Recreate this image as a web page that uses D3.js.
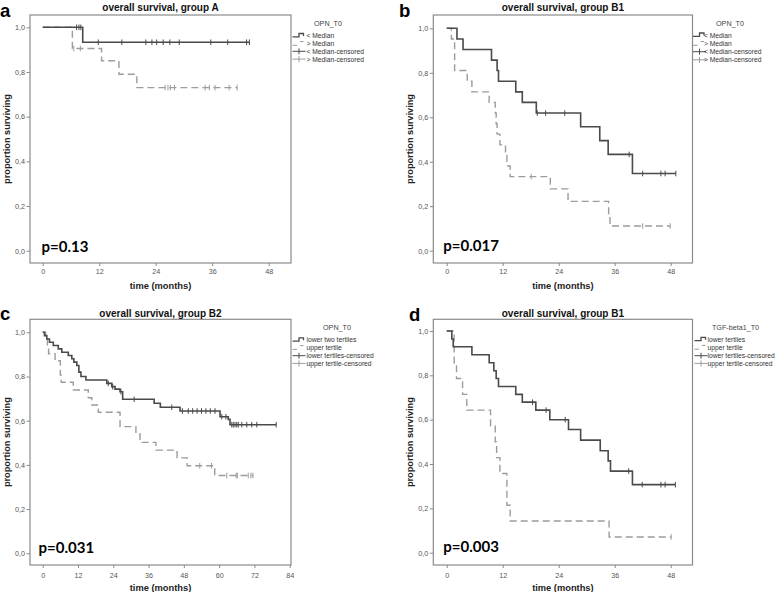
<!DOCTYPE html>
<html><head><meta charset="utf-8">
<script src="https://cdn.jsdelivr.net/npm/d3@7"></script>
<style>
body{margin:0;background:#fff;}
svg{display:block;}
</style></head><body>
<svg id="chart" width="779" height="592"></svg>
<script>
// ---------- data ----------
const yTicks = [0, 0.2, 0.4, 0.6, 0.8, 1.0];
const xTicks48 = [0, 12, 24, 36, 48];
const xTicks84 = [0, 12, 24, 36, 48, 60, 72, 84];

const legendOPNmedian = ["< Median", "> Median", "< Median-censored", "> Median-censored"];
const legendOPNtertile = ["lower two tertiles", "upper tertile", "lower tertiles-censored", "upper tertile-censored"];
const legendTGF = ["lower tertiles", "upper tertile", "lower tertiles-censored", "upper tertile-censored"];

// panel a: group A, OPN_T0
const aLowT = [8.5];
const aLowS = [0.933];
const aLowC = [7.2, 7.7, 8.1, 11.8, 16.8, 21.9, 23.2, 24.2, 25.6, 27.0, 29.0, 35.7, 39.3, 43.3, 43.9];
const aHighT = [6.3, 12.5, 16.2, 20.0];
const aHighS = [0.905, 0.850, 0.790, 0.730];
const aHighC = [6.6, 8.0, 26.0, 26.6, 27.1, 28.0, 34.5, 35.4, 36.6, 39.6, 41.3];

// panel b: group B1, OPN_T0
const bLowT = [2.2, 3.5, 9.6, 10.8, 11.1, 14.8, 16.2, 19.2, 28.7, 32.8, 34.6, 39.8];
const bLowS = [0.952, 0.905, 0.857, 0.810, 0.762, 0.714, 0.667, 0.619, 0.557, 0.495, 0.433, 0.347];
const bLowC = [19.4, 21.2, 25.3, 39.1, 42.0, 45.9, 46.8, 49.1];
const bHighT = [1.0, 1.7, 4.4, 5.4, 9.1, 10.4, 10.6, 10.8, 11.4, 12.6, 12.9, 13.6, 22.2, 26.0, 34.7, 35.0];
const bHighS = [0.952, 0.810, 0.762, 0.714, 0.667, 0.619, 0.571, 0.524, 0.476, 0.429, 0.381, 0.333, 0.278, 0.222, 0.167, 0.111];
const bHighC = [18.1, 42.0, 47.9];

// panel c: group B2, OPN_T0 tertiles
const cLowT = [0.6, 1.4, 2.3, 3.6, 5.3, 6.5, 8.7, 9.9, 10.6, 11.6, 12.3, 13.0, 14.7, 21.8, 23.5, 24.6, 26.3, 27.2, 37.9, 40.0, 46.7, 60.3, 63.1, 63.7];
const cLowS = [0.985, 0.970, 0.955, 0.940, 0.925, 0.910, 0.895, 0.880, 0.865, 0.850, 0.820, 0.800, 0.784, 0.769, 0.754, 0.743, 0.731, 0.697, 0.679, 0.661, 0.644, 0.618, 0.606, 0.582];
const cLowC = [22.3, 23.8, 26.6, 31.1, 43.9, 47.5, 49.5, 51.0, 52.5, 54.0, 55.5, 57.0, 58.6, 60.9, 62.3, 64.3, 64.8, 65.4, 66.0, 66.5, 67.7, 69.4, 71.1, 72.8, 79.4];
const cHighT = [1.0, 1.6, 2.0, 4.2, 6.0, 6.3, 10.4, 15.5, 16.7, 18.9, 26.3, 31.7, 33.1, 38.5, 45.7, 49.1, 58.5];
const cHighS = [0.968, 0.935, 0.903, 0.871, 0.806, 0.774, 0.739, 0.704, 0.671, 0.638, 0.573, 0.540, 0.502, 0.467, 0.432, 0.396, 0.352];
const cHighC = [53.4, 57.4, 62.6, 65.8, 66.2, 69.9, 70.8, 71.5];

// panel d: group B1, TGF-beta1_T0
const dLowT = [1.1, 1.4, 5.4, 9.1, 10.1, 10.6, 11.1, 14.8, 16.2, 19.1, 22.1, 26.1, 28.7, 32.9, 34.6, 35.1, 39.8];
const dLowS = [0.964, 0.929, 0.893, 0.857, 0.821, 0.786, 0.750, 0.714, 0.679, 0.643, 0.600, 0.556, 0.508, 0.460, 0.414, 0.368, 0.307];
const dLowC = [18.4, 21.3, 25.4, 39.0, 41.9, 45.9, 46.8, 49.0];
const dHighT = [1.6, 2.1, 3.4, 4.3, 9.4, 10.4, 10.7, 11.4, 12.9, 13.6, 34.8];
const dHighS = [0.857, 0.786, 0.714, 0.643, 0.571, 0.500, 0.429, 0.357, 0.214, 0.143, 0.071];
const dHighC = [48.1];

// ---------- layout ----------
const panels = [
  { letter: "a", lx: 0, ly: 17.3, title: "overall survival, group A", frame: [30, 15, 291, 263],
    xTicks: xTicks48, xr: [42.7, 268.7], yr: [250.7, 27.3], pval: "p=0.13", px: 41.5, py: 252,
    legTitle: "OPN_T0", legLabels: legendOPNmedian, symX: 292.5, textX: 306.5, legTitleX: 328, legTitleY: 25.5, legRows: [35.7, 43.5, 51.3, 59.1],
    ylabX: 7, xlabY: 289, tickLabY: 273.5,
    low: [aLowT, aLowS, aLowC], high: [aHighT, aHighS, aHighC] },
  { letter: "b", lx: 399, ly: 17.3, title: "overall survival, group B1", frame: [433.3, 15, 692.5, 263],
    xTicks: xTicks48, xr: [446.7, 670.7], yr: [250.7, 28.3], pval: "p=0.017", px: 443.3, py: 250.5,
    legTitle: "OPN_T0", legLabels: legendOPNmedian, symX: 693, textX: 704, legTitleX: 730, legTitleY: 25.5, legRows: [35.2, 43.5, 51.7, 59.8],
    ylabX: 410, xlabY: 289, tickLabY: 273.5,
    low: [bLowT, bLowS, bLowC], high: [bHighT, bHighS, bHighC] },
  { letter: "c", lx: 0, ly: 320, title: "overall survival, group B2", frame: [30, 319.3, 291, 565],
    xTicks: xTicks84, xr: [42.7, 289.7], yr: [553.3, 332.3], pval: "p=0.031", px: 38.5, py: 552.5,
    legTitle: "OPN_T0", legLabels: legendOPNtertile, symX: 292.5, textX: 306.5, legTitleX: 337, legTitleY: 329.5, legRows: [340, 347.6, 355.7, 363.4],
    ylabX: 7, xlabY: 590.5, tickLabY: 577.5,
    low: [cLowT, cLowS, cLowC], high: [cHighT, cHighS, cHighC] },
  { letter: "d", lx: 409, ly: 321, title: "overall survival, group B1", frame: [433.3, 319.3, 692.5, 565],
    xTicks: xTicks48, xr: [446.7, 670.7], yr: [552.7, 331.0], pval: "p=0.003", px: 443.3, py: 551.5,
    legTitle: "TGF-beta1_T0", legLabels: legendTGF, symX: 694.5, textX: 707.5, legTitleX: 735.5, legTitleY: 329.5, legRows: [339.5, 347.4, 355.7, 363.4],
    ylabX: 410, xlabY: 590.5, tickLabY: 577.5,
    low: [dLowT, dLowS, dLowC], high: [dHighT, dHighS, dHighC] }
];

const darkC = "#4a4a4a";
const lightC = "#9c9c9c";
const frameC = "#8a8a8a";
const sans = "'Liberation Sans', Arial, sans-serif";

const svg = d3.select("#chart");

function survAt(T, S, t) {
  let s = 1;
  for (let i = 0; i < T.length; i++) if (T[i] <= t) s = S[i];
  return s;
}

panels.forEach(p => {
  const g = svg.append("g");
  const [fx0, fy0, fx1, fy1] = p.frame;
  const xMax = p.xTicks[p.xTicks.length - 1];
  const x = d3.scaleLinear().domain([0, xMax]).range(p.xr);
  const y = d3.scaleLinear().domain([0, 1]).range(p.yr);

  // frame
  g.append("rect").attr("x", fx0).attr("y", fy0).attr("width", fx1 - fx0).attr("height", fy1 - fy0)
    .attr("fill", "#fff").attr("stroke", frameC).attr("stroke-width", 1.2);

  // axes
  const yAxis = d3.axisLeft(y).tickValues(yTicks).tickSize(3.5).tickPadding(1.5)
    .tickFormat(d => d.toFixed(1).replace(".", ","));
  const ya = g.append("g").attr("transform", `translate(${fx0},0)`).call(yAxis);
  const xAxis = d3.axisBottom(x).tickValues(p.xTicks).tickSize(3).tickPadding(2).tickFormat(d3.format("d"));
  const xa = g.append("g").attr("transform", `translate(0,${fy1})`).call(xAxis);
  [ya, xa].forEach(a => {
    a.select(".domain").remove();
    a.selectAll("line").attr("stroke", frameC);
    a.selectAll("text").attr("fill", "#555").style("font-family", sans).style("font-size", "7.2px");
  });
  xa.selectAll("text").attr("y", null).attr("dy", null)
    .attr("transform", `translate(0,${p.tickLabY - fy1})`);

  // curves
  const line = d3.line().x(d => x(d[0])).y(d => y(d[1])).curve(d3.curveStepAfter);
  function drawCurve(arr, color, dash, width) {
    const [T, S, C] = arr;
    const end = Math.max(T[T.length - 1], C.length ? C[C.length - 1] : 0);
    const pts = [[0, 1]].concat(T.map((t, i) => [t, S[i]])).concat([[end, S[S.length - 1]]]);
    g.append("path").attr("d", line(pts)).attr("fill", "none").attr("stroke", color)
      .attr("stroke-width", width).attr("stroke-dasharray", dash);
    g.selectAll(null).data(C).enter().append("line")
      .attr("x1", d => x(d)).attr("x2", d => x(d))
      .attr("y1", d => y(survAt(T, S, d)) - 2.8).attr("y2", d => y(survAt(T, S, d)) + 2.8)
      .attr("stroke", color).attr("stroke-width", 1);
  }
  drawCurve(p.high, lightC, "7,4", 1.4);
  drawCurve(p.low, darkC, null, 1.6);

  // title
  g.append("text").attr("x", (fx0 + fx1) / 2).attr("y", fy0 - (p.letter === "a" || p.letter === "b" ? 4.3 : 2.5))
    .attr("text-anchor", "middle").style("font-family", sans).style("font-weight", "bold")
    .style("font-size", "10px").attr("fill", "#111").text(p.title);

  // panel letter
  g.append("text").attr("x", p.lx).attr("y", p.ly).style("font-family", sans).style("font-weight", "bold")
    .style("font-size", "18.5px").attr("fill", "#000").text(p.letter);

  // axis labels
  g.append("text").attr("transform", `translate(${p.ylabX + 3},${(fy0 + fy1) / 2}) rotate(-90)`)
    .attr("text-anchor", "middle").style("font-family", sans).style("font-weight", "bold")
    .style("font-size", "9.2px").attr("fill", "#222").text("proportion surviving");
  g.append("text").attr("x", (fx0 + fx1) / 2).attr("y", p.xlabY)
    .attr("text-anchor", "middle").style("font-family", sans).style("font-weight", "bold")
    .style("font-size", "9.3px").attr("fill", "#222").text("time (months)");

  // p value
  g.append("text").attr("x", p.px).attr("y", p.py).style("font-family", "Lato, 'Open Sans', sans-serif")
    .style("font-weight", "bold").style("font-size", "15px").attr("fill", "#000").text(p.pval);

  // legend
  g.append("text").attr("x", p.legTitleX).attr("y", p.legTitleY).attr("text-anchor", "middle")
    .style("font-family", sans).style("font-size", "7.2px").attr("fill", "#444").text(p.legTitle);
  const sx = p.symX;
  p.legLabels.forEach((lab, i) => {
    const cy = p.legRows[i];
    const col = (i % 2 === 0) ? darkC : lightC;
    let d;
    if (i === 0) d = `M${sx},${cy + 1.2}H${sx + 6.5}V${cy - 2.2}H${sx + 11}V${cy + 0.3}`;
    else if (i === 1) d = `M${sx},${cy + 1.8}H${sx + 4.5}M${sx + 7.5},${cy - 2}H${sx + 11}`;
    else d = `M${sx},${cy}H${sx + 13}M${sx + 6.5},${cy - 3}V${cy + 3}`;
    g.append("path").attr("d", d).attr("fill", "none").attr("stroke", col).attr("stroke-width", i === 0 ? 1.3 : 1);
    g.append("text").attr("x", p.textX).attr("y", cy + 2.4).style("font-family", sans)
      .style("font-size", "6.7px").attr("fill", "#333").text(lab);
  });
});
</script>
</body></html>
